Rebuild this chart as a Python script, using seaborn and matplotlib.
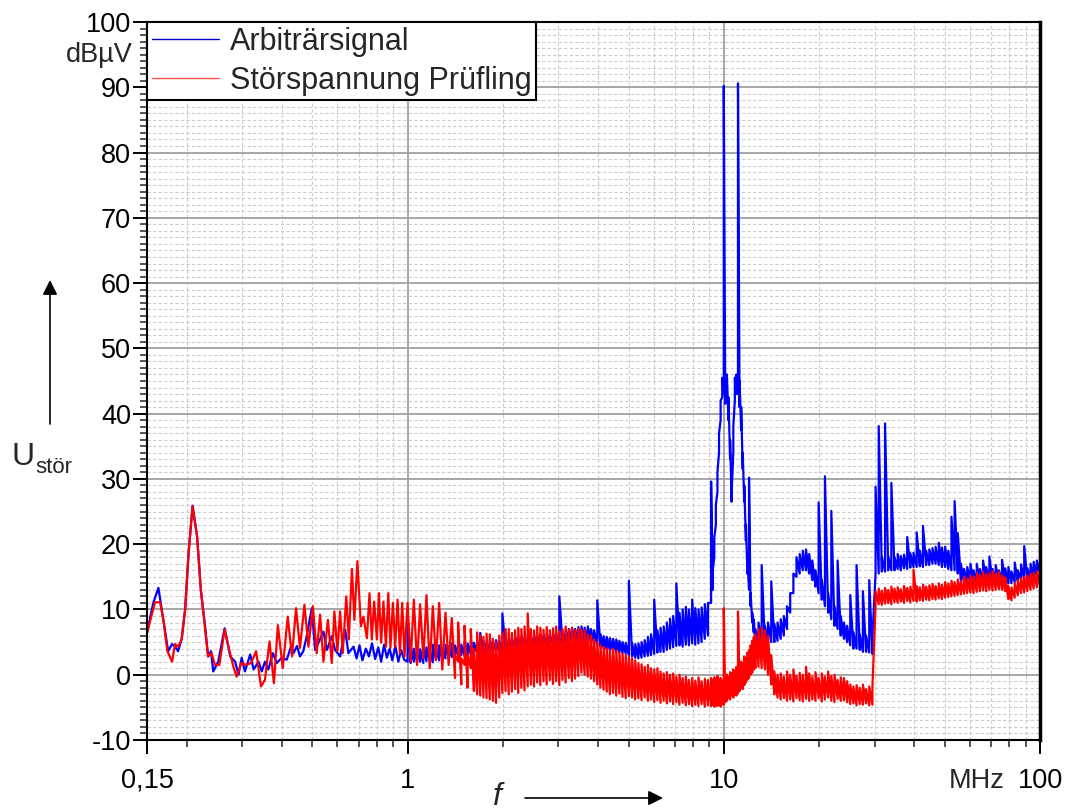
#!/usr/bin/env python3
"""Störspannung: Arbiträrsignal vs. Prüfling, 150 kHz - 100 MHz."""

import matplotlib
matplotlib.use("Agg")
import matplotlib.pyplot as plt
import matplotlib.ticker as ticker
from matplotlib.lines import Line2D
from matplotlib.transforms import blended_transform_factory
import seaborn as sns

# --- low band 0.15 - 1 MHz (read separately for each trace) ---
blue_low_freq = [
    0.150, 0.157, 0.163, 0.169, 0.175, 0.180, 0.184, 0.188, 0.193, 0.198,
    0.203, 0.209, 0.216, 0.222, 0.229, 0.234, 0.239, 0.243, 0.252, 0.264,
    0.275, 0.285, 0.292, 0.299, 0.306, 0.318, 0.326, 0.338, 0.346, 0.354,
    0.363, 0.375, 0.386, 0.400, 0.415, 0.428, 0.436, 0.447, 0.457, 0.468,
    0.480, 0.498, 0.510, 0.523, 0.542, 0.556, 0.576, 0.590, 0.612, 0.635,
    0.650, 0.675, 0.690, 0.705, 0.720, 0.738, 0.755, 0.772, 0.790, 0.808,
    0.825, 0.843, 0.860, 0.878, 0.895, 0.915, 0.935, 0.955, 0.975,
]
blue_low_level = [
    6.4, 11.0, 13.3, 8.4, 3.6, 4.7, 4.3, 3.6, 5.4, 10.0,
    18.6, 25.9, 21.2, 13.0, 7.4, 2.8, 3.6, 0.5, 2.0, 7.1,
    2.8, 2.0, 0.0, 2.6, 0.5, 3.1, 0.8, 2.0, 0.5, 2.0,
    0.8, 3.3, 1.8, 2.6, 2.3, 4.3, 3.3, 4.4, 2.8, 3.6,
    5.9, 10.2, 3.8, 4.9, 6.6, 3.8, 5.9, 3.8, 2.8, 6.9,
    3.3, 4.3, 2.5, 4.5, 2.2, 4.0, 2.8, 4.8, 2.4, 4.2,
    2.0, 4.6, 2.6, 4.0, 2.2, 4.4, 2.0, 3.8, 2.3,
]

red_low_freq = [
    0.150, 0.159, 0.165, 0.169, 0.174, 0.180, 0.184, 0.188, 0.193, 0.198,
    0.203, 0.209, 0.216, 0.222, 0.229, 0.234, 0.240, 0.246, 0.254, 0.264,
    0.273, 0.281, 0.288, 0.298, 0.309, 0.320, 0.332, 0.344, 0.354, 0.366,
    0.378, 0.389, 0.403, 0.418, 0.431, 0.444, 0.457, 0.472, 0.486, 0.502,
    0.516, 0.529, 0.542, 0.560, 0.576, 0.587, 0.600, 0.612, 0.624, 0.640,
    0.652, 0.667, 0.679, 0.694, 0.712, 0.725, 0.744, 0.758, 0.771, 0.784,
    0.800, 0.812, 0.825, 0.839, 0.854, 0.869, 0.883, 0.899, 0.914, 0.930,
    0.946, 0.962, 0.978,
]
red_low_level = [
    6.4, 11.1, 11.1, 8.4, 3.6, 2.0, 4.7, 4.3, 5.4, 10.0,
    18.6, 25.8, 21.2, 13.0, 6.9, 2.8, 3.3, 1.5, 1.5, 6.9,
    3.8, 1.3, -0.3, 1.8, 1.5, 1.8, 3.6, -1.8, -0.8, 5.1,
    -1.3, 7.6, 1.0, 8.9, 2.8, 10.2, 4.1, 10.7, 4.3, 10.5,
    3.3, 9.2, 2.0, 8.4, 1.8, 9.7, 3.6, 9.7, 3.3, 12.0,
    5.4, 16.2, 8.4, 17.4, 7.4, 8.9, 5.6, 12.5, 5.4, 11.2,
    5.4, 12.5, 4.9, 11.2, 4.3, 12.5, 4.1, 11.0, 4.3, 11.5,
    3.3, 11.0, 2.8,
]

# --- shared sweep 1 - 100 MHz (MHz), finer around the 10/11 MHz carrier ---
# every sweep point holds the min and the max of the trace in that bin
sweep_mhz = [
    1.000, 1.023, 1.047, 1.072, 1.096, 1.122, 1.148, 1.175, 1.202, 1.230,
    1.259, 1.288, 1.318, 1.349, 1.380, 1.413, 1.445, 1.479, 1.514, 1.549,
    1.585, 1.622, 1.660, 1.698, 1.738, 1.778, 1.820, 1.862, 1.905, 1.950,
    1.995, 2.042, 2.089, 2.138, 2.188, 2.239, 2.291, 2.344, 2.399, 2.455,
    2.512, 2.570, 2.630, 2.692, 2.754, 2.818, 2.884, 2.951, 3.020, 3.090,
    3.162, 3.236, 3.311, 3.388, 3.467, 3.548, 3.631, 3.715, 3.802, 3.890,
    3.981, 4.074, 4.169, 4.266, 4.365, 4.467, 4.571, 4.677, 4.786, 4.898,
    5.012, 5.129, 5.248, 5.370, 5.495, 5.623, 5.754, 5.888, 6.026, 6.166,
    6.310, 6.457, 6.607, 6.761, 6.918, 7.079, 7.244, 7.413, 7.586, 7.762,
    7.943, 8.128, 8.318, 8.511, 8.710,
    8.913, 9.120, 9.230, 9.333, 9.440, 9.550, 9.660, 9.772, 9.890, 10.00,
    10.11, 10.23, 10.35, 10.47, 10.59, 10.72, 10.84, 10.96, 11.09, 11.22,
    11.35, 11.48, 11.61, 11.75, 11.88, 12.02, 12.16, 12.30, 12.44,
    12.59, 12.88, 13.18, 13.49, 13.80, 14.13, 14.45, 14.79, 15.14, 15.49,
    15.85, 16.22, 16.60, 16.98, 17.38, 17.78, 18.20, 18.62, 19.05, 19.50,
    19.95, 20.42, 20.89, 21.38, 21.88, 22.39, 22.91, 23.44, 23.99, 24.55,
    25.12, 25.70, 26.30, 26.92, 27.54, 28.18, 28.84, 29.51, 30.20, 30.90,
    31.62, 32.36, 33.11, 33.88, 34.67, 35.48, 36.31, 37.15, 38.02, 38.90,
    39.81, 40.74, 41.69, 42.66, 43.65, 44.67, 45.71, 46.77, 47.86, 48.98,
    50.12, 51.29, 52.48, 53.70, 54.95, 56.23, 57.54, 58.88, 60.26, 61.66,
    63.10, 64.57, 66.07, 67.61, 69.18, 70.79, 72.44, 74.13, 75.86, 77.62,
    79.43, 81.28, 83.18, 85.11, 87.10, 89.13, 91.20, 93.33, 95.50, 97.72,
    100.0,
]

blue_sweep_lo = [
    2.0, 1.8, 2.0, 1.9, 2.0, 1.8, 2.1, 2.2, 1.9, 2.3,
    2.2, 2.4, 2.5, 2.6, 2.7, 2.8, 2.9, 3.0, 2.9, 3.0,
    3.1, 3.2, 3.3, 3.2, 3.4, 3.3, 3.5, 3.4, 3.6, 3.5,
    3.6, 3.7, 3.8, 3.9, 4.0, 3.9, 4.1, 4.0, 4.2, 4.1,
    4.3, 4.2, 4.4, 4.3, 4.5, 4.4, 4.6, 4.5, 4.6, 4.8,
    4.9, 5.0, 4.9, 5.1, 5.0, 5.2, 5.0, 5.1, 4.9, 4.8,
    4.6, 4.3, 4.0, 3.8, 3.7, 3.6, 3.5, 3.4, 3.3, 3.2,
    3.0, 2.8, 2.6, 2.5, 2.6, 2.8, 2.9, 3.0, 3.2, 3.4,
    3.5, 3.5, 3.8, 4.0, 4.2, 4.4, 4.5, 4.3, 4.6, 4.5,
    4.8, 4.6, 4.8, 5.0, 5.5,
    6.0, 11.0, 13.0, 18.0, 23.0, 28.0, 34.0, 39.0, 42.5, 43.0,
    41.5, 42.0, 39.0, 33.0, 26.5, 34.0, 42.0, 43.0, 43.0, 41.0,
    37.5, 31.5, 26.5, 20.5, 15.5, 13.0, 10.5, 8.0, 6.5,
    4.5, 4.5, 5.0, 4.5, 5.0, 5.0, 5.0, 5.2, 5.5, 6.0,
    7.0, 9.5, 12.5, 15.0, 15.5, 16.0, 16.0, 15.5, 14.5, 13.5,
    12.5, 11.5, 10.5, 9.5, 8.5, 7.5, 7.0, 6.0, 5.5, 5.0,
    4.5, 4.0, 4.0, 3.8, 3.5, 3.5, 3.4, 3.2, 15.5, 15.5,
    15.8, 15.8, 16.0, 16.0, 16.0, 16.2, 16.0, 16.3, 16.2, 16.4,
    16.5, 16.5, 16.6, 16.5, 16.8, 16.8, 17.0, 17.0, 16.8, 16.5,
    16.5, 16.2, 16.0, 16.0, 15.5, 14.5, 14.0, 14.0, 14.2, 14.0,
    14.2, 14.0, 14.2, 14.3, 14.2, 14.3, 14.2, 14.0, 14.5, 14.3,
    14.0, 14.0, 14.2, 14.3, 14.5, 14.6, 14.5, 14.8, 14.8, 15.0,
    15.5,
]
blue_sweep_hi = [
    9.0, 4.2, 4.0, 4.3, 3.9, 4.4, 4.2, 3.8, 4.6, 4.1,
    4.5, 4.0, 4.6, 4.3, 4.8, 4.5, 4.9, 4.6, 5.0, 4.8,
    5.2, 4.9, 5.3, 6.4, 5.2, 5.0, 5.4, 5.1, 5.3, 5.2,
    9.4, 5.4, 5.6, 5.5, 5.8, 5.6, 5.9, 5.7, 6.0, 5.8,
    6.1, 5.9, 6.2, 6.0, 6.3, 6.1, 6.4, 6.2, 12.0, 6.6,
    6.9, 7.0, 7.2, 7.0, 7.3, 7.4, 7.2, 7.4, 7.0, 6.8,
    11.4, 6.2, 5.9, 5.8, 5.6, 5.5, 5.4, 5.2, 5.0, 4.9,
    14.4, 4.8, 4.7, 4.8, 5.0, 5.3, 5.8, 6.2, 11.5, 6.8,
    7.2, 7.4, 8.0, 8.6, 9.0, 14.0, 9.5, 10.0, 10.4, 10.0,
    11.5, 10.2, 10.0, 10.3, 10.8,
    11.0, 29.6, 16.0, 21.0, 26.0, 31.0, 37.0, 42.0, 45.5, 90.2,
    45.0, 46.0, 42.5, 36.0, 28.0, 38.0, 45.5, 46.0, 90.6, 45.0,
    41.0, 34.0, 29.0, 23.0, 18.0, 30.2, 12.5, 9.5, 8.5,
    7.0, 8.0, 16.8, 7.5, 8.0, 14.3, 7.8, 8.0, 8.5, 9.0,
    10.5, 12.5, 15.5, 18.0, 18.5, 19.0, 19.2, 18.5, 17.5, 16.0,
    26.4, 14.5, 30.4, 12.5, 25.1, 10.5, 17.5, 9.0, 8.0, 7.5,
    12.2, 6.5, 16.8, 6.2, 12.8, 6.0, 14.5, 5.5, 28.8, 38.1,
    18.0, 38.5, 18.2, 29.4, 18.0, 18.5, 18.2, 18.4, 21.1, 18.6,
    18.7, 21.8, 19.0, 22.8, 19.0, 19.2, 19.4, 19.6, 20.2, 19.5,
    19.6, 19.0, 24.2, 26.6, 21.7, 17.0, 16.2, 16.5, 17.0, 16.0,
    17.0, 16.2, 17.5, 16.5, 18.1, 16.2, 16.8, 16.0, 17.6, 16.3,
    16.5, 15.8, 17.2, 16.0, 16.9, 19.7, 16.3, 17.0, 17.3, 17.5,
    20.8,
]

red_sweep_lo = [
    11.0, 2.0, 11.5, 1.5, 10.8, 2.5, 12.2, 1.0, 10.5, 2.2,
    11.0, 0.8, 9.5, 1.5, 8.7, -0.5, 2.0, -1.5, 1.5, -2.0,
    1.0, -2.5, -3.0, -3.2, -3.5, -3.6, -3.8, -4.0, -4.3, -3.5,
    -2.8, -2.5, -3.0, -2.6, -2.2, -2.8, -2.0, -2.4, -1.8, -1.5,
    -1.8, -1.2, -1.6, -1.0, -1.5, -0.8, -1.4, -1.0, -1.6, -0.8,
    -1.2, -0.5, -1.0, -0.6, -0.2, 0.3, 0.0, -0.3, -0.6, -1.0,
    -1.5, -2.0, -2.3, -2.6, -3.0, -2.8, -3.2, -2.9, -3.4, -3.6,
    -3.3, -3.5, -3.8, -3.6, -3.9, -3.5, -4.0, -3.8, -4.2, -3.9,
    -4.3, -4.0, -4.4, -4.1, -4.5, -4.2, -4.6, -4.3, -4.7, -4.5,
    -4.8, -4.6, -4.8, -4.5, -4.9,
    -4.7, -4.8, -4.6, -4.9, -4.7, -4.8, -4.6, -4.9, -4.5, -4.6,
    -4.2, -4.0, -3.6, -3.8, -3.2, -3.5, -3.0, -3.2, -2.8, -2.5,
    -2.0, -2.2, -1.6, -1.2, -0.8, -0.5, 0.0, 0.3, 0.8,
    1.0, 1.2, 1.0, 0.8, 0.0, -1.5, -3.0, -3.5, -3.8, -3.6,
    -4.0, -3.8, -4.1, -3.6, -3.9, -4.1, -3.7, -4.0, -3.8, -4.0,
    -3.6, -4.1, -3.8, -3.5, -4.0, -4.2, -3.7, -4.0, -3.9, -4.2,
    -4.5, -4.4, -4.7, -4.5, -4.6, -4.4, -4.7, -4.6, 10.6, 10.8,
    10.7, 10.9, 11.0, 10.8, 11.1, 11.0, 11.2, 11.0, 11.3, 11.1,
    11.3, 11.2, 11.4, 11.3, 11.5, 11.4, 11.6, 11.5, 11.7, 11.6,
    11.8, 11.9, 12.0, 12.1, 12.2, 12.3, 12.4, 12.5, 12.6, 12.5,
    12.7, 12.8, 12.9, 12.8, 13.0, 12.9, 13.0, 13.1, 13.0, 12.8,
    11.6, 11.4, 11.8, 12.2, 12.5, 12.6, 12.8, 13.0, 13.2, 13.4,
    13.6,
]
red_sweep_hi = [
    11.0, 2.0, 11.5, 1.5, 10.8, 2.5, 12.2, 1.0, 10.5, 2.2,
    11.0, 0.8, 9.5, 1.5, 8.7, 3.0, 8.0, 2.5, 7.5, 3.0,
    7.0, 4.0, 6.5, 6.0, 5.8, 6.3, 6.2, 5.5, 5.0, 6.0,
    6.5, 7.0, 7.0, 6.4, 6.8, 7.2, 7.0, 7.4, 9.4, 7.0,
    6.8, 7.4, 7.2, 6.9, 7.3, 6.8, 7.1, 7.4, 6.6, 7.0,
    7.4, 6.9, 7.2, 6.8, 7.1, 6.9, 6.8, 6.2, 6.0, 5.4,
    5.0, 4.5, 4.3, 4.0, 3.8, 4.0, 3.6, 3.4, 3.2, 3.0,
    2.8, 2.5, 2.2, 1.8, 1.6, 1.2, 1.5, 1.0, 0.8, 1.0,
    0.5, 0.2, 0.4, 0.0, 0.2, -0.3, 0.0, -0.5, -0.3, -0.8,
    -0.5, -0.9, -0.4, -1.0, -0.6,
    -0.8, -0.5, -0.9, -0.4, -0.8, -0.2, -0.7, -0.5, -0.9, 10.2,
    -0.4, 0.0, -0.3, 0.4, 0.2, 0.8, 0.5, 1.2, 9.7, 1.5,
    2.0, 1.8, 2.8, 2.5, 3.4, 3.8, 4.5, 5.2, 5.8,
    6.2, 7.0, 7.2, 6.8, 6.0, 3.0, 0.5, 0.0, 0.2, -0.3,
    0.5, 0.0, 0.8, -0.2, 0.3, 0.0, 1.2, 0.2, -0.3, 0.4,
    -0.5, 0.2, -0.3, 0.5, -0.2, 0.0, -0.8, -0.4, -0.5, -1.0,
    -1.5, -1.8, -1.6, -2.0, -1.5, -2.2, -1.8, -2.0, 12.8, 13.2,
    12.9, 13.3, 13.0, 13.5, 13.2, 13.4, 13.1, 13.6, 13.3, 13.5,
    16.1, 13.6, 13.4, 13.8, 13.5, 13.7, 13.9, 13.6, 14.0, 13.8,
    14.2, 14.0, 14.4, 14.2, 14.6, 14.3, 15.0, 14.7, 15.2, 15.0,
    15.6, 15.3, 15.8, 15.4, 15.6, 15.9, 15.5, 15.8, 15.2, 14.9,
    13.6, 13.4, 14.0, 14.5, 14.8, 15.0, 15.2, 15.5, 15.6, 15.8,
    16.0,
]

x_ticks = [0.15, 1, 10, 100]
x_tick_labels = ["0,15", "1", "10", "100"]
y_ticks = list(range(-10, 101, 10))

LABEL_BLUE = "Arbiträrsignal"
LABEL_RED = "Störspannung Prüfling"
BLUE = "#0000ff"
RED = "#ff0000"

W, H = 1065, 810


def trace(low_freq, low_level, lo, hi):
    """Low band as read, then the sweep as min/max pairs per frequency bin."""
    freq = list(low_freq)
    level = list(low_level)
    for f, a, b in zip(sweep_mhz, lo, hi):
        freq += [f, f]
        level += [a, b]
    return freq, level


def main():
    sns.set_style("white")
    plt.rcParams["font.family"] = ["Liberation Sans", "DejaVu Sans"]
    plt.rcParams["axes.unicode_minus"] = False

    freq_blue, level_blue = trace(blue_low_freq, blue_low_level,
                                  blue_sweep_lo, blue_sweep_hi)
    freq_red, level_red = trace(red_low_freq, red_low_level,
                                red_sweep_lo, red_sweep_hi)

    fig = plt.figure(figsize=(W / 100, H / 100), dpi=100)
    ax = fig.add_axes([147 / W, 1 - 740 / H, (1040 - 147) / W, (740 - 22) / H])

    sns.lineplot(x=freq_blue, y=level_blue, ax=ax, color=BLUE, linewidth=1.6,
                 estimator=None, sort=False, legend=False)
    sns.lineplot(x=freq_red, y=level_red, ax=ax, color=RED, linewidth=1.6,
                 estimator=None, sort=False, legend=False)

    ax.set_xscale("log")
    ax.set_xlim(0.15, 100)
    ax.set_ylim(-10, 100)

    ax.set_xticks(x_ticks)
    ax.set_xticklabels(x_tick_labels)
    ax.xaxis.set_minor_locator(ticker.LogLocator(base=10, subs=range(2, 10)))
    ax.xaxis.set_minor_formatter(ticker.NullFormatter())
    ax.set_yticks(y_ticks)
    ax.yaxis.set_minor_locator(ticker.MultipleLocator(1))

    ax.set_axisbelow(True)
    ax.grid(which="major", color="#a6a6a6", linewidth=1.4, linestyle="-")
    ax.grid(which="minor", color="#cdcdcd", linewidth=0.8, linestyle=(0, (3, 2)))

    ax.tick_params(which="major", direction="out", length=10, width=1.4,
                   labelsize=19.5, colors="black", bottom=True, left=True)
    ax.tick_params(axis="x", which="major", pad=10)
    ax.tick_params(axis="y", which="major", pad=1.5)
    ax.tick_params(which="minor", direction="out", length=5, width=1.1,
                   bottom=True, left=True)
    ax.tick_params(top=False, right=False, which="both")

    for side in ["left", "bottom", "top"]:
        ax.spines[side].set_color("black")
        ax.spines[side].set_linewidth(1.5)
    ax.spines["right"].set_color("black")
    ax.spines["right"].set_linewidth(2.5)

    # unit labels
    trans_y = blended_transform_factory(ax.transAxes, ax.transData)
    ax.text(-(147 - 133) / (1040 - 147), 95, "dBµV", transform=trans_y,
            ha="right", va="center", fontsize=19.5)
    ax.annotate("MHz", xy=(63, 0), xycoords=("data", "axes fraction"),
                xytext=(0, -20), textcoords="offset points",
                ha="center", va="top", fontsize=19.5)

    # axis symbols with arrows
    fig.text(12 / W, 1 - 465 / H, "U", fontsize=23, va="baseline", ha="left")
    fig.text(35 / W, 1 - 473 / H, "stör", fontsize=16, va="baseline", ha="left")
    fig.add_artist(plt.Annotation(
        "", xy=(50 / W, 1 - 280 / H), xytext=(50 / W, 1 - 424 / H),
        xycoords="figure fraction", textcoords="figure fraction",
        arrowprops=dict(arrowstyle="-|>", color="black", lw=1.2,
                        mutation_scale=22, shrinkA=0, shrinkB=0)))
    fig.text(497 / W, 1 - 797 / H, "f", fontsize=23, style="italic",
             ha="center", va="center")
    fig.add_artist(plt.Annotation(
        "", xy=(663 / W, 1 - 798 / H), xytext=(525 / W, 1 - 798 / H),
        xycoords="figure fraction", textcoords="figure fraction",
        arrowprops=dict(arrowstyle="-|>", color="black", lw=1.2,
                        mutation_scale=22, shrinkA=0, shrinkB=0)))

    handles = [
        Line2D([], [], color="#0000cc", linewidth=1.0),
        Line2D([], [], color="#ff5050", linewidth=1.0),
    ]
    leg = ax.legend(handles, [LABEL_BLUE, LABEL_RED], loc="upper left",
                    bbox_to_anchor=(0, 1), borderaxespad=0, fontsize=22,
                    frameon=True, fancybox=False, framealpha=1,
                    edgecolor="black", handlelength=2.2, handletextpad=0.35,
                    labelspacing=0.3, borderpad=0.15)
    leg.get_frame().set_linewidth(1.5)

    fig.savefig("out.png", dpi=100)
    plt.close(fig)


if __name__ == "__main__":
    main()
